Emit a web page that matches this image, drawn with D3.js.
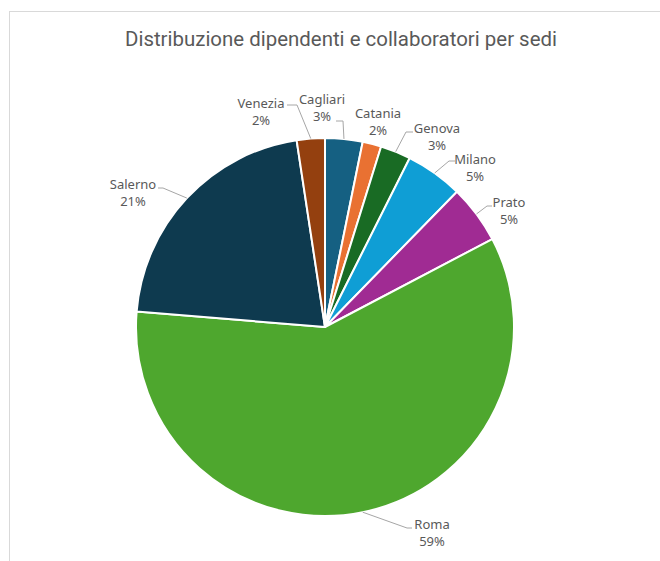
<!DOCTYPE html>
<html>
<head>
<meta charset="utf-8">
<script src="https://cdn.jsdelivr.net/npm/d3@7"></script>
<style>
  html, body { margin: 0; padding: 0; background: #fff; }
  svg { display: block; }
</style>
</head>
<body>
<svg id="chart" width="660" height="561"></svg>
<script>
// ---- data ----
const categories = ["Cagliari", "Catania", "Genova", "Milano", "Prato", "Roma", "Salerno", "Venezia"];
const values = [3.2, 1.6, 2.6, 4.9, 5.0, 59.0, 21.3, 2.4];
const colors = ["#156082", "#E97132", "#196B24", "#0F9ED5", "#A02B93", "#4EA72E", "#0E3A4F", "#94400F"];
const title = "Distribuzione dipendenti e collaboratori per sedi";

// ---- label layout (offsets relative to pie centre, px) ----
const labelText = [[-3, -228], [53, -214], [112, -199], [150, -168], [184, -125], [107, 197], [-192, -143], [-64, -224]];
const labelElbow = [[18, -206], null, [81, -195], [124, -166], [162, -121], [82, 201], [-162, -139], [-28, -222]];
const labelEnd = [[11, -206], null, [88, -195], [130, -166], [167, -121], [87, 201], [-167, -139], [-38, -222]];

const svg = d3.select("#chart");
const cx = 325, cy = 327, R = 189;

// chart frame
svg.append("rect")
  .attr("x", 9.5).attr("y", 11.5)
  .attr("width", 700).attr("height", 600)
  .attr("fill", "#fff").attr("stroke", "#d9d9d9").attr("stroke-width", 1);

// title
svg.append("text")
  .attr("x", 341).attr("y", 46)
  .attr("text-anchor", "middle")
  .attr("fill", "#595959")
  .style("font-family", "Roboto, 'Noto Sans', sans-serif")
  .style("font-weight", "400")
  .style("font-size", "21px")
  .attr("textLength", 432).attr("lengthAdjust", "spacingAndGlyphs")
  .text(title);

const total = d3.sum(values);
const data = categories.map((c, i) => ({ name: c, value: values[i], color: colors[i], i }));

const pie = d3.pie().value(d => d.value).sort(null);
const arc = d3.arc().innerRadius(0).outerRadius(R);
const arcs = pie(data);

const g = svg.append("g").attr("transform", `translate(${cx},${cy})`);

g.selectAll("path.slice")
  .data(arcs)
  .join("path")
  .attr("class", "slice")
  .attr("d", arc)
  .attr("fill", d => d.data.color)
  .attr("stroke", "#fff")
  .attr("stroke-width", 2)
  .attr("stroke-linejoin", "round");

// leader lines
g.selectAll("polyline.leader")
  .data(arcs.filter(d => labelElbow[d.data.i]))
  .join("polyline")
  .attr("class", "leader")
  .attr("fill", "none")
  .attr("stroke", "#a6a6a6")
  .attr("stroke-width", 1)
  .attr("points", d => {
    const a = (d.startAngle + d.endAngle) / 2;
    const p0 = [Math.sin(a) * R, -Math.cos(a) * R];
    const e = labelElbow[d.data.i], f = labelEnd[d.data.i];
    return [p0, e, f].map(p => p.join(",")).join(" ");
  });

const fmt = d3.format(".0%");
const fs = 13;
const lbl = g.selectAll("g.lbl")
  .data(arcs)
  .join("g")
  .attr("class", "lbl")
  .attr("transform", d => `translate(${labelText[d.data.i][0]},${labelText[d.data.i][1]})`)
  .style("font-family", "'Noto Sans','Open Sans',sans-serif")
  .style("font-size", fs + "px")
  .attr("fill", "#595959")
  .attr("text-anchor", "middle");

lbl.append("text").attr("y", fs * 0.36).text(d => d.data.name);
lbl.append("text").attr("y", fs * 0.36 + 17).text(d => fmt(d.data.value / total));
</script>
</body>
</html>
